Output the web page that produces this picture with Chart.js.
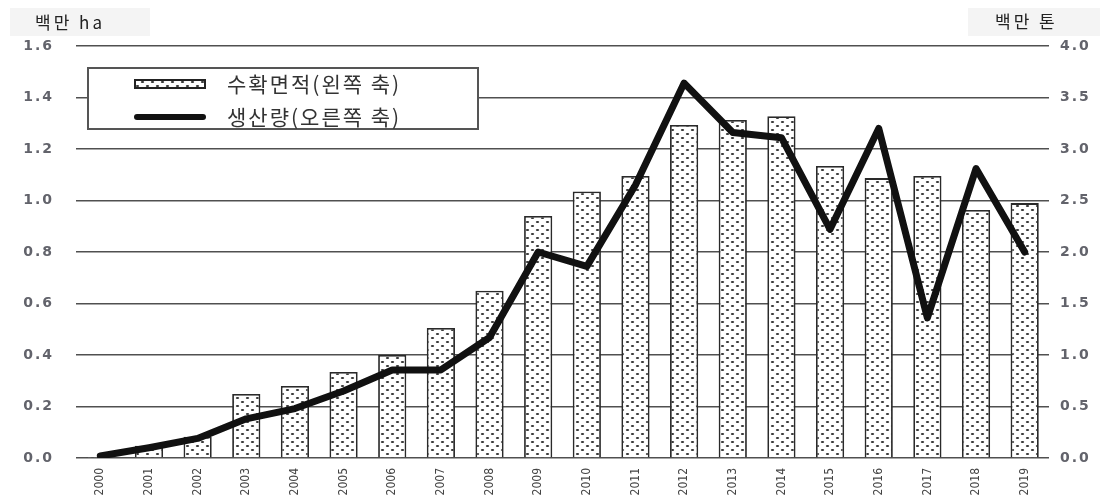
<!DOCTYPE html>
<html>
<head>
<meta charset="utf-8">
<script src="https://cdn.jsdelivr.net/npm/chart.js@4.4.0/dist/chart.umd.min.js"></script>
<style>
html, body { margin: 0; padding: 0; background: #fff; }
#wrap { width: 1113px; height: 495px; }
</style>
</head>
<body>
<div id="wrap"><canvas id="myChart" width="1113" height="495"></canvas></div>
<script>
// 연도별 수확면적(백만 ha)과 생산량(백만 톤)
var years = ['2000', '2001', '2002', '2003', '2004', '2005', '2006', '2007', '2008', '2009',
             '2010', '2011', '2012', '2013', '2014', '2015', '2016', '2017', '2018', '2019'];
var area = [0.004, 0.048, 0.083, 0.249, 0.28, 0.334, 0.40, 0.505, 0.65, 0.94,
            1.035, 1.095, 1.293, 1.313, 1.327, 1.134, 1.087, 1.095, 0.963, 0.99];
var output = [0.02, 0.10, 0.19, 0.38, 0.48, 0.65, 0.855, 0.855, 1.17, 2.0,
              1.86, 2.65, 3.64, 3.16, 3.11, 2.22, 3.2, 1.36, 2.81, 2.0];
var labels = ['수확면적(왼쪽 축)', '생산량(오른쪽 축)'];
var unitLeft = '백만 ha';
var unitRight = '백만 톤';

// 점무늬 채우기
function dotPattern() {
    var c = document.createElement('canvas');
    c.width = 10; c.height = 8;
    var g = c.getContext('2d');
    g.fillStyle = '#fff';
    g.fillRect(0, 0, 10, 8);
    g.fillStyle = '#333';
    g.beginPath(); g.ellipse(2.5, 2, 1.7, 1.1, 0, 0, Math.PI * 2); g.fill();
    g.beginPath(); g.ellipse(7.5, 6, 1.7, 1.1, 0, 0, Math.PI * 2); g.fill();
    return document.getElementById('myChart').getContext('2d').createPattern(c, 'repeat');
}
var dots = dotPattern();

var tickFont = { family: 'DejaVu Sans', size: 14, weight: 'bold' };
var tickColor = '#62636b';

var boxes = {
    id: 'boxes',
    afterLayout: function(chart) {
        // y축 숫자는 자간을 조금 넓혀서 그린다
        ['y', 'y2'].forEach(function(id) {
            var s = chart.scales[id];
            if (s._spaced) return;
            var draw = s.drawLabels;
            s.drawLabels = function(area) {
                this.ctx.save();
                this.ctx.letterSpacing = '2px';
                draw.call(this, area);
                this.ctx.restore();
            };
            s._spaced = true;
        });
    },
    afterDraw: function(chart) {
        var ctx = chart.ctx, a = chart.chartArea;
        ctx.save();
        // 단위 표시
        ctx.textBaseline = 'middle';
        ctx.fillStyle = '#f4f4f4';
        ctx.fillRect(10, 8, 140, 28);
        ctx.fillRect(968, 8, 132, 28);
        ctx.fillStyle = '#222';
        ctx.textAlign = 'left';
        ctx.font = '17px "Noto Sans CJK KR"';
        ctx.letterSpacing = '3px';
        ctx.fillText(unitLeft, 35, 23);
        ctx.fillText(unitRight, 995, 22);

        // 범례
        var x = a.left + 12, y = a.top + 22, w = 390, h = 61;
        ctx.fillStyle = '#fff';
        ctx.fillRect(x, y, w, h);
        ctx.strokeStyle = '#555';
        ctx.lineWidth = 2;
        ctx.strokeRect(x, y, w, h);

        ctx.fillStyle = dots;
        ctx.fillRect(x + 47, y + 12, 70, 8);
        ctx.strokeStyle = '#222';
        ctx.lineWidth = 2;
        ctx.strokeRect(x + 47, y + 12, 70, 8);

        ctx.strokeStyle = '#111';
        ctx.lineWidth = 6;
        ctx.lineCap = 'round';
        ctx.beginPath();
        ctx.moveTo(x + 49, y + 49);
        ctx.lineTo(x + 115, y + 49);
        ctx.stroke();

        ctx.font = '21px "Noto Sans CJK KR"';
        ctx.letterSpacing = '2px';
        ctx.fillStyle = '#333';
        ctx.fillText(chart.data.datasets[1].label, x + 139, y + 16);
        ctx.fillText(chart.data.datasets[0].label, x + 139, y + 49);
        ctx.restore();
    }
};

var ctx = document.getElementById('myChart');
var myChart = new Chart(ctx, {
    data: {
        labels: years,
        datasets: [{
            type: 'line',
            label: labels[1],
            data: output,
            yAxisID: 'y2',
            borderColor: '#111',
            borderWidth: 7,
            borderJoinStyle: 'round',
            borderCapStyle: 'round',
            pointRadius: 0,
            tension: 0,
            fill: false,
            order: 0
        }, {
            type: 'bar',
            label: labels[0],
            data: area,
            yAxisID: 'y',
            backgroundColor: dots,
            borderColor: '#2a2a2a',
            borderWidth: 1.8,
            barPercentage: 0.58,
            categoryPercentage: 1,
            order: 1
        }]
    },
    options: {
        responsive: false,
        animation: false,
        devicePixelRatio: 1,
        layout: { padding: { top: 46, left: 0, right: 0, bottom: 0 } },
        plugins: { legend: { display: false }, tooltip: { enabled: false } },
        scales: {
            x: {
                grid: { display: false },
                border: { display: false },
                ticks: {
                    minRotation: 90, maxRotation: 90, padding: 2,
                    font: { family: 'DejaVu Sans Condensed', size: 12 },
                    color: '#444'
                },
                afterFit: function(s) { s.height = 37; }
            },
            y: {
                position: 'left',
                min: 0, max: 1.6,
                ticks: {
                    stepSize: 0.2, padding: 22, font: tickFont, color: tickColor,
                    callback: function(v) { return v.toFixed(1); }
                },
                grid: { color: '#505050', lineWidth: 1.5, drawTicks: false },
                border: { display: false },
                afterFit: function(s) { s.width = 76; }
            },
            y2: {
                position: 'right',
                min: 0, max: 4,
                ticks: {
                    stepSize: 0.5, padding: 11, font: tickFont, color: tickColor,
                    callback: function(v) { return v.toFixed(1); }
                },
                grid: { display: false, drawTicks: false },
                border: { display: false },
                afterFit: function(s) { s.width = 64; }
            }
        }
    },
    plugins: [boxes]
});
</script>
</body>
</html>
